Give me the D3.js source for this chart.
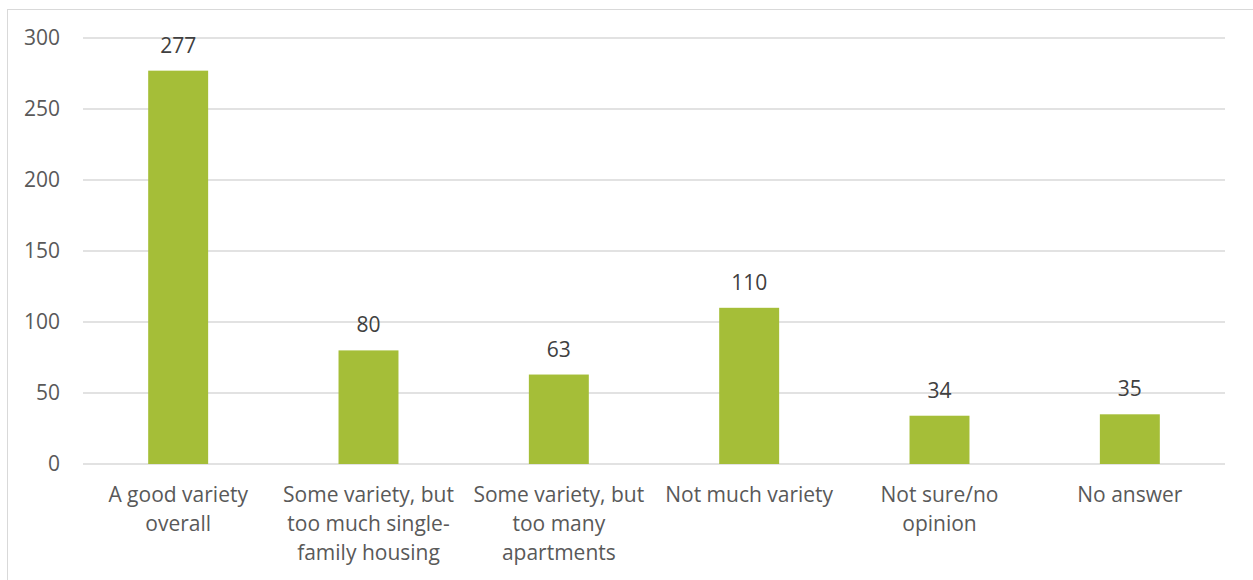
<!DOCTYPE html>
<html>
<head>
<meta charset="utf-8">
<script src="https://cdn.jsdelivr.net/npm/d3@7"></script>
<style>
  html, body { margin: 0; padding: 0; background: #fff; }
  svg { display: block; font-family: "Open Sans", Lato, sans-serif; }
</style>
</head>
<body>
<svg id="chart" width="1253" height="580"></svg>
<script>
// Survey responses on housing variety
const categories = [
  "A good variety overall",
  "Some variety, but too much single-family housing",
  "Some variety, but too many apartments",
  "Not much variety",
  "Not sure/no opinion",
  "No answer"
];
const categoryLines = [
  ["A good variety", "overall"],
  ["Some variety, but", "too much single-", "family housing"],
  ["Some variety, but", "too many", "apartments"],
  ["Not much variety"],
  ["Not sure/no", "opinion"],
  ["No answer"]
];
const counts = [277, 80, 63, 110, 34, 35];
const yTicks = [0, 50, 100, 150, 200, 250, 300];

const svg = d3.select("#chart");
const margin = { left: 83, right: 28, top: 38, bottom: 116 };
const W = 1253, H = 580;
const fontFamily = "'Open Sans', Lato, sans-serif";
const fontSize = "21px";

// outer frame
svg.append("rect")
  .attr("x", 7.5).attr("y", 9.5)
  .attr("width", W).attr("height", H)
  .attr("fill", "none").attr("stroke", "#D9D9D9").attr("stroke-width", 1);

const x = d3.scaleBand()
  .domain(categories)
  .range([margin.left, W - margin.right])
  .padding(0);

const y = d3.scaleLinear()
  .domain([0, 300])
  .range([H - margin.bottom, margin.top]);

const barW = x.bandwidth() * 0.315;

// gridlines
svg.append("g")
  .selectAll("line")
  .data(yTicks)
  .join("line")
  .attr("x1", margin.left).attr("x2", W - margin.right)
  .attr("y1", d => y(d)).attr("y2", d => y(d))
  .attr("stroke", "#D9D9D9").attr("stroke-width", 1.3);

// y axis labels
const yAxis = d3.axisLeft(y).tickValues(yTicks).tickSize(0).tickPadding(0);
const yg = svg.append("g")
  .attr("transform", `translate(${margin.left - 23},0)`)
  .call(yAxis);
yg.select(".domain").remove();
yg.selectAll("text")
  .attr("fill", "#595959")
  .style("font-size", fontSize)
  .style("font-family", fontFamily);

// bars
svg.append("g")
  .selectAll("rect")
  .data(counts)
  .join("rect")
  .attr("x", (d, i) => x(categories[i]) + x.bandwidth() / 2 - barW / 2)
  .attr("width", barW)
  .attr("y", d => y(d))
  .attr("height", d => y(0) - y(d))
  .attr("fill", "#A5BE38");

// value labels
svg.append("g")
  .selectAll("text")
  .data(counts)
  .join("text")
  .attr("x", (d, i) => x(categories[i]) + x.bandwidth() / 2)
  .attr("y", d => y(d) - 18)
  .attr("text-anchor", "middle")
  .attr("fill", "#404040")
  .style("font-size", fontSize)
  .text(d => d);

// category labels
const cg = svg.append("g")
  .selectAll("text")
  .data(categories)
  .join("text")
  .attr("x", d => x(d) + x.bandwidth() / 2)
  .attr("y", 502)
  .attr("text-anchor", "middle")
  .attr("fill", "#595959")
  .style("font-size", fontSize);
cg.selectAll("tspan")
  .data((d, i) => categoryLines[i])
  .join("tspan")
  .attr("x", function () { return d3.select(this.parentNode).attr("x"); })
  .attr("dy", (d, i) => i === 0 ? 0 : 29)
  .text(d => d);
</script>
</body>
</html>
